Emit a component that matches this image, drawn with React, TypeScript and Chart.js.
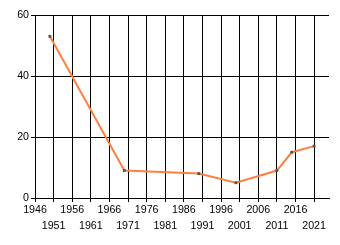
import React, { useEffect, useRef } from 'react';
import { Chart, registerables } from 'chart.js';

Chart.register(...registerables);

const years = [1950, 1970, 1990, 2000, 2011, 2015, 2021];
const values = [53, 9, 8, 5, 9, 15, 17];
const xTickValues = [1946, 1951, 1956, 1961, 1966, 1971, 1976, 1981, 1986, 1991, 1996, 2001, 2006, 2011, 2016, 2021];
const yTickValues = [0, 20, 40, 60];

export default function App() {
  const ref = useRef<HTMLCanvasElement>(null);

  useEffect(() => {
    document.body.style.margin = '0';
    const font = { family: '"Liberation Sans", Arial, sans-serif', size: 10.67 };
    const chart = new Chart(ref.current as HTMLCanvasElement, {
      type: 'line',
      data: {
        datasets: [
          {
            data: years.map((x, i) => ({ x, y: values[i] })),
            borderColor: '#ff8040',
            borderWidth: 2,
            pointRadius: 2,
            pointStyle: 'rect',
            pointBackgroundColor: '#555555',
            pointBorderWidth: 0,
            tension: 0,
          },
        ],
      },
      options: {
        responsive: false,
        animation: false,
        layout: { padding: { top: 15, right: 11, left: 0, bottom: 0 } },
        plugins: { legend: { display: false }, tooltip: { enabled: false } },
        scales: {
          x: {
            type: 'linear',
            min: 1946,
            max: 2025,
            afterBuildTicks: (s: any) => {
              s.ticks = xTickValues.map((v) => ({ value: v }));
            },
            afterFit: (s: any) => {
              s.height = 47;
            },
            grid: { color: '#000', lineWidth: 1, tickLength: 4, drawTicks: true },
            border: { color: '#000', width: 1 },
            ticks: {
              autoSkip: false,
              maxRotation: 0,
              minRotation: 0,
              padding: 0,
              color: '#000',
              font: { ...font, lineHeight: '16px' },
              callback: (v: any, i: number) => (i % 2 === 0 ? String(v) : ['', String(v)]),
            },
          },
          y: {
            min: 0,
            max: 60,
            afterBuildTicks: (s: any) => {
              s.ticks = yTickValues.map((v) => ({ value: v }));
            },
            afterFit: (s: any) => {
              s.width = 35;
            },
            grid: { color: '#000', lineWidth: 1, tickLength: 4, drawTicks: true },
            border: { color: '#000', width: 1 },
            ticks: {
              padding: 2,
              color: '#000',
              font,
              callback: (v: any) => String(v),
            },
          },
        },
      },
    });
    return () => chart.destroy();
  }, []);

  return (
    <canvas
      ref={ref}
      width={340}
      height={245}
      style={{ position: 'absolute', left: 0, top: 0, width: 340, height: 245 }}
    />
  );
}
